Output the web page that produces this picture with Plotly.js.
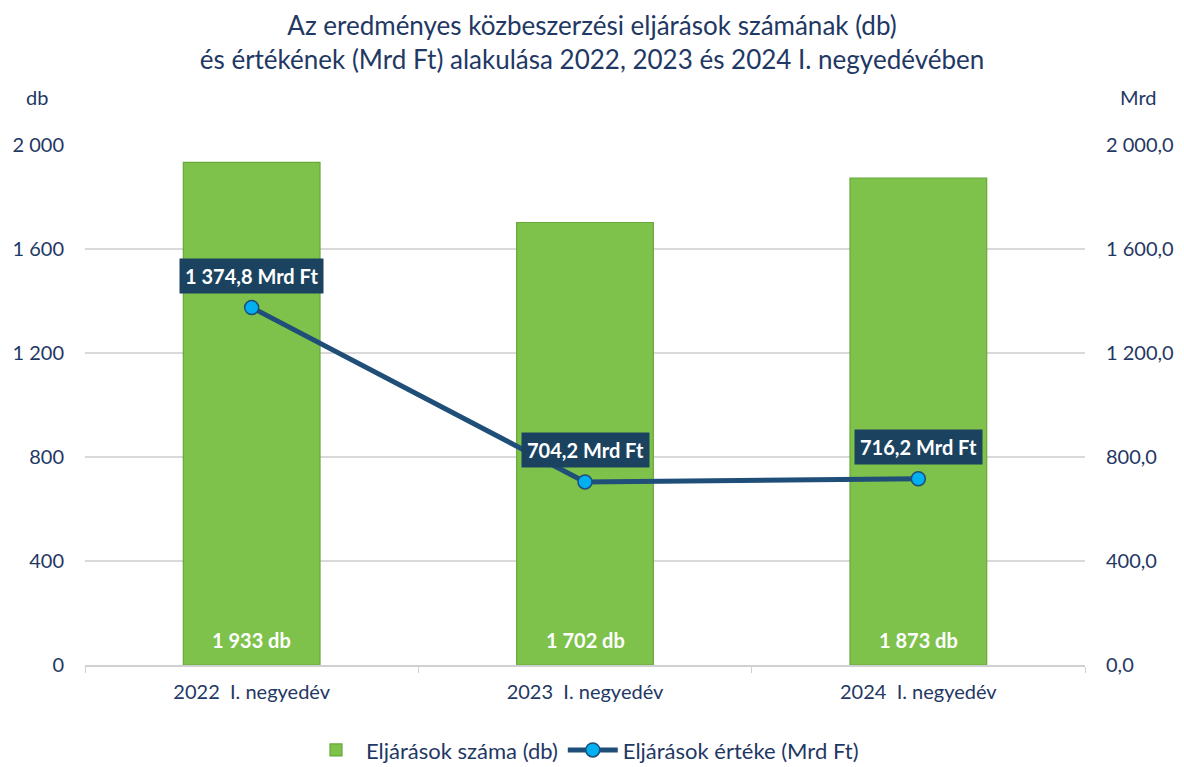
<!DOCTYPE html>
<html>
<head>
<meta charset="utf-8">
<script src="https://cdn.plot.ly/plotly-3.0.1.min.js"></script>
<style>html,body{margin:0;padding:0;background:#fff;}#chart{width:1184px;height:767px;}</style>
</head>
<body>
<div id="chart"></div>
<script>
const categories = ["2022\u00a0\u00a0I. negyedév", "2023\u00a0\u00a0I. negyedév", "2024\u00a0\u00a0I. negyedév"];
const countDb = [1933, 1702, 1873];
const countLabels = ["1 933 db", "1 702 db", "1 873 db"];
const valueMrd = [1374.8, 704.2, 716.2];
const valueLabels = ["1 374,8 Mrd Ft", "704,2 Mrd Ft", "716,2 Mrd Ft"];
const leftTicks = [0, 400, 800, 1200, 1600, 2000];
const leftTickText = ["0", "400", "800", "1 200", "1 600", "2 000"];
const rightTicks = [0, 400, 800, 1200, 1600, 2000];
const rightTickText = ["0,0", "400,0", "800,0", "1 200,0", "1 600,0", "2 000,0"];

const FONT = "Lato, 'Open Sans', sans-serif";
const NAVY = "#1F3864";

const traces = [
  {
    type: "bar", name: "Eljárások száma (db)",
    x: categories, y: countDb, yaxis: "y",
    width: 0.41,
    marker: {color: "#7EC24C", line: {color: "#67A83A", width: 1.2}},
    hoverinfo: "x+y"
  },
  {
    type: "scatter", mode: "lines+markers", name: "Eljárások értéke (Mrd Ft)",
    x: categories, y: valueMrd, yaxis: "y2",
    line: {color: "#1F4E79", width: 5},
    marker: {color: "#00B0F0", size: 14, line: {color: "#1F4E79", width: 1.5}},
    hoverinfo: "x+y"
  }
];

const annotations = [];
categories.forEach((c, i) => {
  annotations.push({
    x: c, y: 0, xref: "x", yref: "y", yanchor: "bottom", yshift: 11,
    text: "<b>" + countLabels[i] + "</b>", showarrow: false,
    font: {family: FONT, size: 20, color: "#FFFFFF"}
  });
  annotations.push({
    x: c, y: valueMrd[i], xref: "x", yref: "y2", yshift: 32,
    text: "<b>" + valueLabels[i] + "</b>", showarrow: false,
    bgcolor: "#1B4360", borderpad: 5,
    font: {family: FONT, size: 20, color: "#FFFFFF"}
  });
});
annotations.push({xref: "paper", yref: "paper", x: -0.048, y: 1.092, xanchor: "center", yanchor: "middle", text: "db", showarrow: false, font: {family: FONT, size: 20, color: NAVY}});
annotations.push({xref: "paper", yref: "paper", x: 1.053, y: 1.092, xanchor: "center", yanchor: "middle", text: "Mrd", showarrow: false, font: {family: FONT, size: 20, color: NAVY}});

const layout = {
  width: 1184, height: 767,
  margin: {l: 85, r: 99, t: 145, b: 102, autoexpand: false},
  paper_bgcolor: "#FFFFFF", plot_bgcolor: "#FFFFFF",
  font: {family: FONT, color: NAVY, size: 20},
  title: {
    text: "Az eredményes közbeszerzési eljárások számának (db)<br>és értékének (Mrd Ft) alakulása 2022, 2023 és 2024 I. negyedévében",
    x: 0.5, xanchor: "center", yref: "container", y: 0.954, yanchor: "middle",
    font: {family: FONT, size: 26, color: NAVY}
  },
  xaxis: {
    type: "category", showgrid: false, showline: true, linecolor: "#D0D0D0", linewidth: 1.5,
    ticks: "outside", tickson: "boundaries", ticklen: 6, tickcolor: "#D0D0D0",
    ticklabelstandoff: 8,
    tickfont: {family: FONT, size: 20, color: NAVY}, fixedrange: true
  },
  yaxis: {
    range: [0, 2000], tickvals: leftTicks, ticktext: leftTickText,
    showgrid: true, gridcolor: "#D9D9D9", gridwidth: 1.5, zeroline: false, showline: false,
    ticks: "", ticklabelstandoff: 20,
    tickfont: {family: FONT, size: 20, color: NAVY}
  },
  yaxis2: {
    range: [0, 2000], tickvals: rightTicks, ticktext: rightTickText,
    overlaying: "y", side: "right", showgrid: false, zeroline: false, showline: false,
    ticks: "", ticklabelstandoff: 20,
    tickfont: {family: FONT, size: 20, color: NAVY}
  },
  legend: {
    orientation: "h", x: 0.5, xanchor: "center", yref: "container", y: 0.022, yanchor: "middle",
    font: {family: FONT, size: 22, color: NAVY}, itemwidth: 50
  },
  annotations: annotations,
  showlegend: true
};

Plotly.newPlot("chart", traces, layout, {displayModeBar: false, staticPlot: true});
</script>
</body>
</html>
